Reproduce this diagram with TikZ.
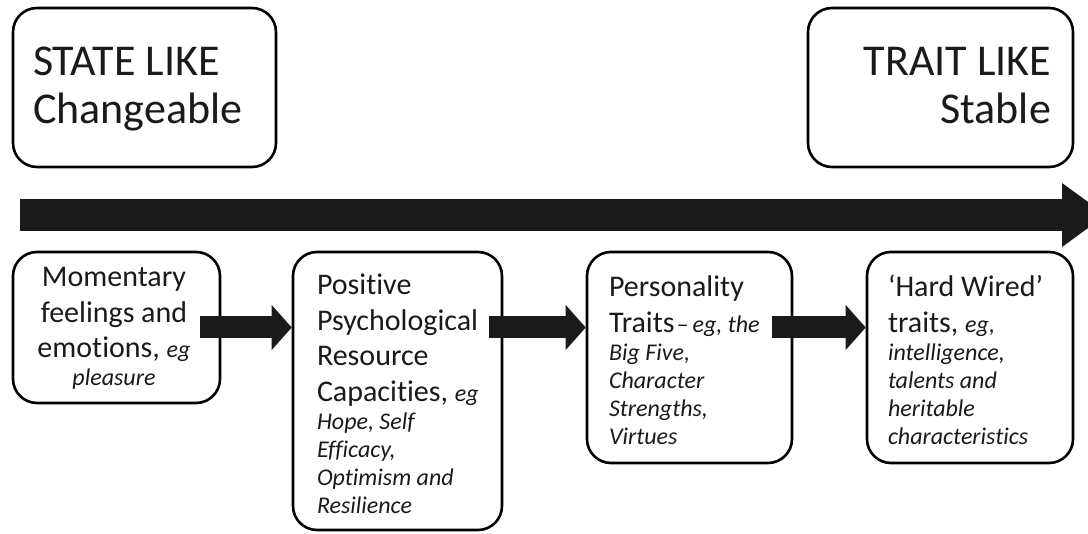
\documentclass[tikz,border=0pt]{standalone}
\usepackage{fontspec}
\setmainfont{Carlito}[Ligatures=NoCommon]
\usetikzlibrary{arrows.meta,calc}
\definecolor{ink}{HTML}{1A1A1A}
% font helpers: regular lines, italic lines, inline italic
\newcommand\bigtxt{\fontsize{44}{48}\selectfont}
\newcommand\rl{\fontsize{30}{35.4}\selectfont}
\newcommand\il{\fontsize{24}{28}\selectfont\itshape}
\newcommand\ie[1]{{\fontsize{24}{28}\selectfont\itshape #1}}
\tikzset{
  box/.style={draw=black, line width=2.6pt, rounded corners=24pt, inner sep=0pt},
  txt/.style={inner sep=0pt, outer sep=0pt, text=ink},
  link/.style={draw=ink, line width=22pt,
    -{Triangle[length=20pt,width=45pt,line width=0pt]}},
  timeline/.style={draw=ink, line width=32pt,
    -{Triangle[length=44pt,width=64pt,line width=0pt]}}
}
\begin{document}
\begin{tikzpicture}[x=1pt,y=-1pt]
\useasboundingbox (0,0) rectangle (1088,534);
\clip (0,0) rectangle (1088,534);

% headline boxes
\node[box, minimum width=263pt, minimum height=159pt] (state) at (144.5,87.5) {};
\node[box, minimum width=265pt, minimum height=159pt] (trait) at (940.5,87.5) {};
\node[txt, anchor=base west] (statetxt) at (33,76)
  {\begin{minipage}[t]{235pt}\bigtxt STATE LIKE\par Changeable\par\end{minipage}};
\node[txt, anchor=base east] (traittxt) at (1051,76)
  {\begin{minipage}[t]{235pt}\raggedleft\bigtxt TRAIT LIKE\par Stable\par\end{minipage}};

% continuum arrow
\coordinate (tl) at (20,215);
\coordinate (tr) at (1106,215);
\draw[timeline] (tl) -- (tr);

% stage boxes
\node[box, minimum width=207pt, minimum height=151pt] (b1) at (116.5,327.5) {};
\node[box, minimum width=209pt, minimum height=278pt] (b2) at (397.5,391) {};
\node[box, minimum width=205pt, minimum height=211pt] (b3) at (689.5,357.5) {};
\node[box, minimum width=206pt, minimum height=211pt] (b4) at (970,357.5) {};

\node[txt, anchor=base] (t1) at (114,287)
  {\begin{minipage}[t]{200pt}\centering\rl Momentary\par feelings and\par
   emotions, \ie{eg}\par \il pleasure\par\end{minipage}};
\node[txt, anchor=base west] (t2) at (317,295)
  {\begin{minipage}[t]{180pt}\rl Positive\par Psychological\par Resource\par
   Capacities, \ie{eg}\par \il Hope, Self\par Efficacy,\par Optimism and\par
   Resilience\par\end{minipage}};
\node[txt, anchor=base west] (t3) at (609,297)
  {\begin{minipage}[t]{180pt}\rl Personality\par
   Traits\kern2pt\ie{–\kern4pt eg, the}\par \il Big Five,\par Character\par
   Strengths,\par Virtues\par\end{minipage}};
\node[txt, anchor=base west] (t4) at (888,297)
  {\begin{minipage}[t]{180pt}\rl ‘Hard Wired’\par traits, \ie{eg,}\par
   \il intelligence,\par talents and\par heritable\par characteristics\par\end{minipage}};

% progression arrows between stages
\draw[link] ($(b1.east)+(-21pt,0)$) -- (b1.east -| b2.west);
\draw[link] ($(b2.east |- b1.east)+(-14pt,0)$) -- (b1.east -| b3.west);
\draw[link] ($(b3.east |- b1.east)+(-21pt,0)$) -- (b1.east -| b4.west);
\end{tikzpicture}
\end{document}
